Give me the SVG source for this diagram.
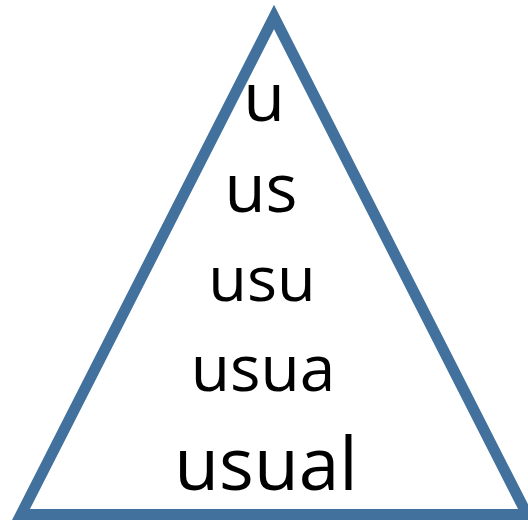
<svg xmlns="http://www.w3.org/2000/svg" width="528" height="520" viewBox="0 0 528 520">
<style>
.t{font-family:"Open Sans","Noto Sans",sans-serif;fill:#000;text-anchor:middle}
</style>
<rect width="528" height="520" fill="#fff"/>
<g id="triangle">
<polygon points="274,17 21,514.5 527,514.5" fill="none" stroke="#41719C" stroke-width="11" stroke-linejoin="miter" stroke-miterlimit="10"/>
</g>
<g id="words">
<text class="t" x="264" y="121" font-size="68">u</text>
<text class="t" x="261" y="212" font-size="67">us</text>
<text class="t" x="262" y="301" font-size="63">usu</text>
<text class="t" x="263" y="391" font-size="64">usua</text>
<text class="t" x="266" y="490" font-size="73">usual</text>
</g>
</svg>
